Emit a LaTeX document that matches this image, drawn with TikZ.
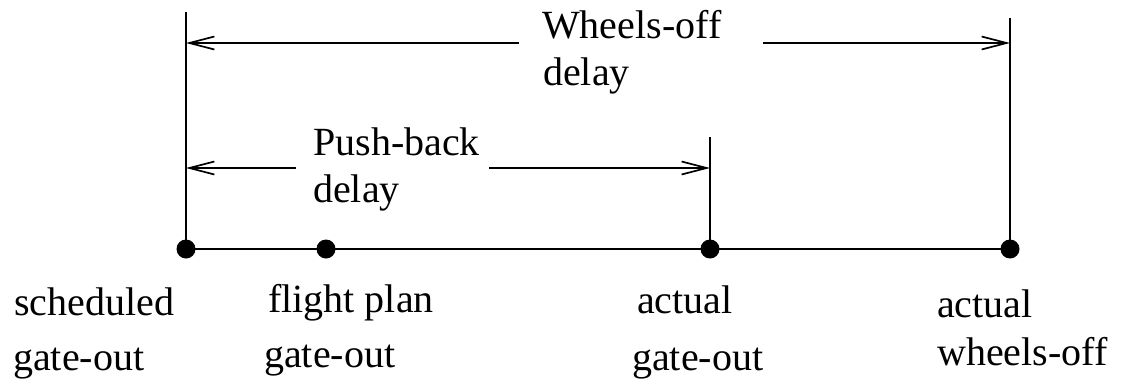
\documentclass[tikz,border=0pt]{standalone}
\usepackage{fontspec}
\setmainfont{Liberation Serif}
\usetikzlibrary{arrows.meta}
\begin{document}
\begin{tikzpicture}[x=1pt,y=-1pt,
  lbl/.style={anchor=base west, inner sep=0pt, font=\fontsize{40}{48}\selectfont},
  axis/.style={line width=2.8pt},
  tick/.style={line width=2.2pt},
  span/.style={line width=2.2pt, -{Straight Barb[length=25pt,width=13pt,line width=1.7pt]}},
  dot/.style={circle, fill, inner sep=0pt, minimum width=18pt, minimum height=19pt}]
\useasboundingbox (0,0) rectangle (1125,383);

% time points on the axis
\coordinate (sg) at (186,249);
\coordinate (fp) at (326,249);
\coordinate (ag) at (710,249);
\coordinate (aw) at (1010,249);

% tops of the marker lines
\coordinate (sgTop) at (186,12);
\coordinate (agTop) at (710,137);
\coordinate (awTop) at (1010,18);

% axis and marker lines
\draw[axis] (sg) -- (aw);
\draw[tick] (sg) -- (sgTop);
\draw[tick] (ag) -- (agTop);
\draw[tick] (aw) -- (awTop);

% dots
\node[dot] (sgDot) at (sg) {};
\node[dot] (fpDot) at (fp) {};
\node[dot] (agDot) at (ag) {};
\node[dot] (awDot) at (aw) {};

% wheels-off delay span
\coordinate (woL) at (519,43);
\coordinate (woR) at (763,43);
\draw[span] (woL) -- (sgTop |- woL);
\draw[span] (woR) -- (awTop |- woR);
\node[lbl] (woT1) at (542,38) {Wheels-off};
\node[lbl] (woT2) at (543,85) {delay};

% push-back delay span
\coordinate (pbL) at (296,168);
\coordinate (pbR) at (489,168);
\draw[span] (pbL) -- (sgTop |- pbL);
\draw[span] (pbR) -- (agTop |- pbR);
\node[lbl] (pbT1) at (313,155) {Push-back};
\node[lbl] (pbT2) at (313,202) {delay};

% labels under the axis
\node[lbl] (sgL1) at (14,315) {scheduled};
\node[lbl] (sgL2) at (13,370) {gate-out};
\node[lbl] (fpL1) at (268,312) {flight plan};
\node[lbl] (fpL2) at (264,367) {gate-out};
\node[lbl] (agL1) at (637,313) {actual};
\node[lbl] (agL2) at (632,370) {gate-out};
\node[lbl] (awL1) at (937,317) {actual};
\node[lbl] (awL2) at (937,365) {wheels-off};
\end{tikzpicture}
\end{document}
